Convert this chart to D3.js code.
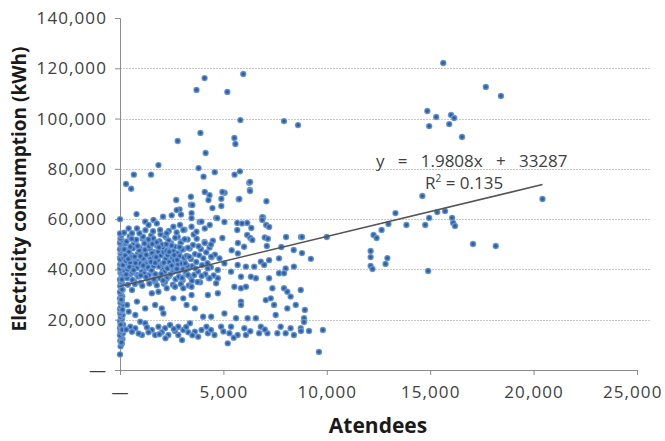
<!DOCTYPE html>
<html>
<head>
<meta charset="utf-8">
<script src="https://cdn.jsdelivr.net/npm/d3@7"></script>
<style>
  body { margin: 0; background: #fff; }
  text { font-family: 'Open Sans', sans-serif; fill: #404040; }
  .tick text { font-size: 17px; letter-spacing: 1.1px; fill: #404040; }
  .axis path, .axis line { stroke: #8c8c8c; }
  .grid line { stroke: #c9c9c9; stroke-dasharray: 2,1; }
  .title { font-weight: bold; fill: #1a1a1a; }
  .eq { font-size: 17px; fill: #404040; }
</style>
</head>
<body>
<script>
// [attendees, kWh]
var zeroStrip = [[0,6200],[30,9400],[90,10500],[10,11600],[120,12300],[50,13100],[0,13800],[140,14600],[20,15200],[80,15900],[0,16700],[60,17300],[150,18000],[30,18900],[0,19500],[100,20300],[40,21100],[130,21900],[10,22600],[70,23500],[0,24300],[50,25200],[140,25900],[20,26800],[90,27600],[0,28500],[110,29300],[40,30100],[0,31000],[130,31900],[60,32700],[10,33400],[100,34400],[30,35100],[0,36000],[80,37000],[150,37700],[20,38700],[60,39400],[0,40300],[120,41300],[10,42000],[90,43000],[40,43900],[0,44600],[140,45600],[30,46300],[70,47300],[0,48000],[110,49100],[40,49900],[0,50600],[80,51600],[20,52300],[50,53400],[0,54300],[0,60000],[60,28000],[30,18000],[90,36000],[20,44000],[110,16000],[70,11000],[120,24000],[100,32000],[130,48000]];

var denseCluster = [[170,44600],[230,39300],[270,50300],[340,36600],[380,47500],[410,42300],[470,53100],[520,38200],[550,45700],[610,40800],[650,49900],[690,35300],[730,43800],[770,51500],[830,37800],[870,46300],[910,41500],[950,48600],[1010,34700],[1070,44200],[1090,52300],[1150,39700],[1190,47200],[1230,42900],[1290,50700],[1330,36300],[1370,45400],[1430,40300],[1450,48200],[1510,53500],[1570,38700],[1590,44000],[1650,46900],[1690,35200],[1730,41800],[1790,49400],[1810,44700],[1870,37500],[1910,51200],[1950,42200],[2010,47000],[2070,40000],[2090,48500],[2130,34300],[2190,44500],[2230,52800],[2270,40700],[2330,47700],[2370,37300],[2410,43400],[2470,50400],[2510,46000],[2550,39000],[2610,42000],[2650,49000],[2690,36100],[2730,45000],[2790,52900],[2830,39400],[2870,46500],[2910,42700],[2970,51000],[3030,35800],[3070,48000],[3110,43200],[3170,38400],[3210,45200],[3270,51900],[3310,40500],[3370,48300],[3410,37000],[3430,44100],[3490,41300],[3530,49700],[3590,37800],[3630,46100],[3690,43000],[3710,52200],[3770,39200],[3830,45600],[3870,34900],[3910,48100],[3970,41700],[4030,44400],[4090,50900],[4130,38100],[4170,46800],[4230,42500],[4290,36500],[4330,48700],[4390,40900],[4430,44800],[4490,51400],[4530,37600],[4590,45900],
  [140,41700],[210,48000],[290,43400],[320,51100],[360,40000],[430,47000],[490,42600],[570,45000],[590,38800],[630,48400],[680,41100],[710,45100],[790,51800],[810,40600],[850,43100],[890,37200],[930,47500],[970,42400],[1030,45900],[1050,39100],[1110,53000],[1130,44400],[1170,38300],[1210,47800],[1250,42100],[1270,45800],[1310,50100],[1350,40900],[1390,37700],[1410,49200],[1470,44100],[1530,39600],[1550,46500],[1610,52300],[1630,41400],[1670,45100],[1710,38100],[1770,50800],[1830,43700],[1850,47100],[1890,41200],[1930,36600],[1970,45500],[2030,49800],[2050,42100],[2110,46900],[2150,39100],[2170,53400],[2210,44200],[2250,47400],[2290,40400],[2310,45700],[2350,51500],[2390,42900],[2430,38000],[2490,49500],[2530,44600],[2570,40700],[2590,47200],[2630,43600],[2670,52600],[2710,39600],[2770,46400],[2810,42000],[2850,37100],[2890,45300],[2930,50500],[2990,42300],[3010,47900],[3050,40100],[3090,44700],[3130,52000],[3190,38900],[3230,45400],[3250,41500],[3290,48600],
  [250,45500],[300,38000],[450,41000],[500,49000],[600,35800],[750,42500],[850,49300],[1000,37600],[1120,41600],[1260,37000],[1380,51900],[1500,43000],[1640,36100],[1750,44900],[1880,48800],[2000,38200],[2120,42700],[2260,36400],[2380,47000],[2500,41500],[2620,45700],[2750,40200],[2880,48900],[3000,36600],[3150,42400],[3350,45000],[3480,35500],[3650,40400],[3800,49200],[3950,37400],
  [200,54600],[380,33900],[560,52200],[720,34200],[940,54400],[1080,33500],[1230,55600],[1420,34400],[1600,55200],[1780,33700],[1960,54000],[2180,35100],[2360,55300],[2560,33900],[2740,54700],[2940,34200],[3120,55800],[3330,33600],[3560,53900],[3750,35000],[660,39700],[1180,50300],[1700,42600],[2240,50000],[2760,43800],[3280,37800],[400,44100],[980,45300],[1560,50100],[2080,35600]];

var upperScatter = [[670,77700],[1500,77700],[290,74000],[540,72100],[4040,76900],[4580,78700],[5540,77700],[5800,79000],[6250,74500],[6280,71600],[4100,70800],[4330,69500],[5060,70500],[4900,68100],[3430,68900],[2720,67600],[3430,65700],[2880,63900],[2950,61800],[2500,61500],[2080,61000],[800,62000],[5740,67900],[7080,67100],[4650,60500],[6920,60700],[1860,81500],[3800,80300],[3500,65600],[2740,63600],[3460,62400],[3460,60400],[3850,58900],[4280,67600],[6290,74800],[6290,71200],[5770,68000],[4950,70800],[4470,64400],[4900,65200],[4700,60400],[6880,60800],[6880,59700],[5050,58900],[5670,58500],[5900,58300],[6150,58500],[7070,57700],[7210,56900],[6350,56500],[5670,55700],[6150,53700],[6300,52500],[6400,51700],[7000,52700],[7150,52200],[8030,52900],[8750,52900],[4950,52500],[4100,50500],[4400,49900],[5700,50500],[6000,49000],[7800,48900],[8400,47700],[7100,49300],[5400,47600],[5700,46400],
  [420,56300],[820,56300],[580,54400],[1220,59000],[1380,57700],[1620,59700],[1780,58300],[1940,55700],[2260,54400],[2580,57000],[2900,57700],[3060,55700],[3460,57000],[3700,55000],[3940,59000],[4100,56300],[4340,57700],
  [4090,116100],[5960,117700],[3700,111400],[5190,110600],[5820,99400],[7930,99000],[8610,97400],[3890,94300],[2790,91100],[5530,92300],[5580,89900],[4140,86300]];

var midScatter = [[4410,45100],[4810,44400],[5050,42400],[4250,40400],[4730,39800],[5370,39100],[5690,41800],[6090,41100],[6490,41100],[6810,43100],[6970,41800],[7210,43700],[7690,44400],[8010,40400],[8410,41100],[7690,38500],[7930,38500],[7210,36500],[6570,36500],[6330,37100],[5850,37100],[4730,36500],[4330,36500],[4650,34500],[5530,33100],[5850,32500],[6090,33100],[7370,32500],[7930,32500],[8090,31100],[8250,29200],[8740,31800],[7050,27800],[7290,28500],[7450,25900],[8090,24500],[8500,25900],[5850,27200],[5850,25900],[4730,30500],[4250,29800],[5050,22500],[4410,21200],[5610,20600],[6170,20600],[6570,20600],[7530,21900],[8900,20600],
  [580,31800],[820,27200],[1540,30500],[1860,31100],[2260,32500],[2660,33100],[3060,32500],[3460,33100],[2580,28500],[3060,28500],[3460,29800],[1700,25900],[2020,24500],[2100,22500],[1220,24500],[340,25900],[420,23200],[740,21900],[3220,25900],[3620,24500],[4020,21200],
  [8800,52900],[8800,46500],[9230,44200],[8940,23900],[8900,19100],[9620,7200]];

var lowBand = [[500,17200],[740,16600],[980,19200],[1220,18600],[1540,15900],[1860,17200],[2180,16600],[2420,17900],[2820,17200],[3060,15900],[3380,18600],[3620,15200],[3940,15900],[4180,17200],[1060,13900],[1700,13900],[2340,13900],[2820,13900],[3780,13200],[580,15200],[1380,15000],[2020,15000],[2660,15500],[3300,15000],
  [4890,17200],[5370,17200],[6010,16600],[6810,17200],[7770,17200],[8250,16600],[8740,16600],[4250,14600],[4570,13900],[5290,14600],[5690,13900],[6090,13900],[6730,14600],[7130,14600],[7610,14600],[8010,14600],[8410,13900],[5210,10600],[8750,15500],[9140,15500],[9810,15900],
  [300,16100],[900,14500],[1300,17000],[1900,14200],[2600,16300],[3200,17100],[3500,13800],[4400,15900],[5000,15300],[5500,12800],[6300,15400],[7000,16100],[2200,12600],[3000,11900]];

var eventCluster = [[15630,122100],[17690,112600],[18420,109000],[14860,103000],[15290,100600],[14950,97000],[16010,101400],[16160,100200],[15920,97800],[16540,92700],
  [14620,69200],[20430,68000],[13320,62400],[15340,62800],[15720,63200],[14950,60500],[16060,60500],[12980,58100],[13850,57700],[14760,57700],[16110,58500],[16200,57300],[12650,55700],[12260,53700],[12410,52500],[10000,52900],[17070,50100],[18170,49300],[12120,47300],[12120,44900],[12120,41400],[12210,40200],[12930,44500],[12840,42200],[14900,39400]];

var trend = { slope: 1.9808, intercept: 33287, r2: 0.135 };
var yTicks = [0, 20000, 40000, 60000, 80000, 100000, 120000, 140000];
var xTicks = [0, 5000, 10000, 15000, 20000, 25000];

var width = 665, height = 441;
var svg = d3.select("body").append("svg")
    .attr("width", width)
    .attr("height", height);

var x = d3.scaleLinear().domain([0, 25000]).range([120, 637]);
var y = d3.scaleLinear().domain([0, 140000]).range([370, 18]);

var fmt = function(d) { return d === 0 ? "\u2014" : d3.format(",")(d); };

// dot gradient
var grad = svg.append("defs").append("radialGradient").attr("id", "dot");
grad.append("stop").attr("offset", "0%").attr("stop-color", "#284c86");
grad.append("stop").attr("offset", "45%").attr("stop-color", "#3a6db3");
grad.append("stop").attr("offset", "100%").attr("stop-color", "#78a4db");

// grid
svg.append("g").attr("class", "grid")
  .selectAll("line")
  .data(yTicks.filter(function(d) { return d > 0 && d < 140000; }))
  .enter().append("line")
    .attr("x1", x(0)).attr("x2", 650)
    .attr("y1", function(d) { return Math.round(y(d)) + 0.5; })
    .attr("y2", function(d) { return Math.round(y(d)) + 0.5; });

svg.append("g")
    .attr("class", "axis")
    .attr("transform", "translate(" + x(0) + ",0)")
    .call(d3.axisLeft(y).tickValues(yTicks).tickFormat(fmt).tickSize(5).tickPadding(8));

var xAxisG = svg.append("g")
    .attr("class", "axis")
    .attr("transform", "translate(0," + y(0) + ")")
    .call(d3.axisBottom(x).tickValues(xTicks).tickFormat(fmt).tickSize(5).tickPadding(11));

// keep the last label inside the frame, as in the original
xAxisG.selectAll(".tick text")
    .filter(function(d) { return d === 25000; })
    .attr("text-anchor", "end")
    .attr("x", 25);

var all = zeroStrip.concat(denseCluster, upperScatter, midScatter, lowBand, eventCluster);

svg.append("g").selectAll("circle")
  .data(all)
  .enter().append("circle")
    .attr("cx", function(d) { return x(d[0]); })
    .attr("cy", function(d) { return y(d[1]); })
    .attr("r", 3.2)
    .attr("fill", "url(#dot)");

var xMax = d3.max(all, function(d) { return d[0]; });
svg.append("line")
    .attr("x1", x(0)).attr("y1", y(trend.intercept))
    .attr("x2", x(xMax)).attr("y2", y(trend.intercept + trend.slope * xMax))
    .attr("stroke", "#555")
    .attr("stroke-width", 1.5);

svg.append("text").attr("class", "eq")
    .attr("x", 376).attr("y", 167)
    .attr("xml:space", "preserve")
    .text("y   =   " + trend.slope + "x   +   " + trend.intercept);
var r2 = svg.append("text").attr("class", "eq")
    .attr("x", 425).attr("y", 189)
    .attr("xml:space", "preserve");
r2.append("tspan").text("R");
r2.append("tspan").attr("font-size", "10px").attr("dy", -7).text("2");
r2.append("tspan").attr("dy", 7).text(" = " + trend.r2);

svg.append("text").attr("class", "title")
    .attr("font-size", "19px")
    .attr("transform", "translate(26,189) rotate(-90)")
    .attr("text-anchor", "middle")
    .text("Electricity consumption (kWh)");

svg.append("text").attr("class", "title")
    .attr("font-size", "21px")
    .attr("x", 378).attr("y", 433)
    .attr("text-anchor", "middle")
    .text("Atendees");
</script>
</body>
</html>
